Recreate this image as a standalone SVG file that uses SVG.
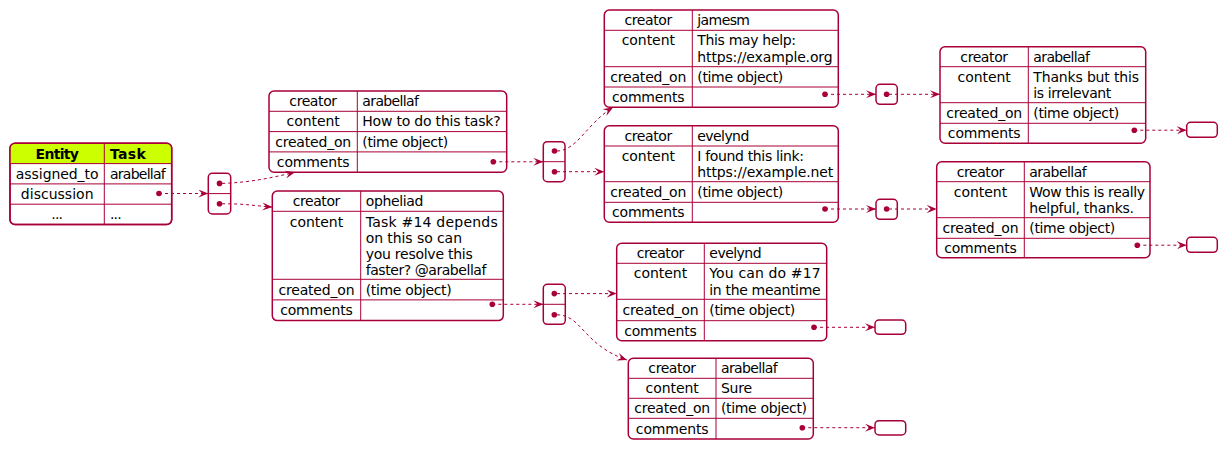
<svg xmlns="http://www.w3.org/2000/svg" width="1227" height="450" viewBox="0 0 1227 450">
<style>
.b{fill:#FFFFFF;stroke:#A80036;stroke-width:1.5}
.o{fill:none;stroke:#A80036;stroke-width:1.5}
.l{stroke:#A80036;stroke-width:1}
.t{font-family:"DejaVu Sans","Liberation Sans",sans-serif;font-size:14px;fill:#000000}
.k{text-anchor:middle}
.h{font-weight:bold}
.d{fill:#A80036}
.c{fill:none;stroke:#A80036;stroke-width:1;stroke-dasharray:3,3}
</style>
<defs>
<marker id="ah" markerWidth="11" markerHeight="9" refX="10" refY="4" orient="auto" markerUnits="userSpaceOnUse">
<path d="M0,0 L10,4 L0,8 L4,4 Z" fill="#A80036"/>
</marker>
</defs>
<rect width="1227" height="450" fill="#FFFFFF"/>

<g id="entity">
<rect class="b" x="10" y="143.3" width="161.7" height="81.2" rx="5"/>
<path d="M10,163.6 V148.3 Q10,143.3 15,143.3 H166.7 Q171.7,143.3 171.7,148.3 V163.6 Z" fill="#CCFF00"/>
<rect class="o" x="10" y="143.3" width="161.7" height="81.2" rx="5"/>
<line class="l" x1="10" y1="163.6" x2="171.7" y2="163.6"/>
<line class="l" x1="10" y1="183.9" x2="171.7" y2="183.9"/>
<line class="l" x1="10" y1="204.2" x2="171.7" y2="204.2"/>
<line class="l" x1="104.3" y1="143.3" x2="104.3" y2="224.5"/>
<text class="t k h" x="57.2" y="158.5" textLength="43.3" lengthAdjust="spacing">Entity</text>
<text class="t h" x="110" y="158.5" textLength="35.7" lengthAdjust="spacing">Task</text>
<text class="t k" x="57.2" y="178.8" textLength="82.7" lengthAdjust="spacing">assigned_to</text>
<text class="t" x="110" y="178.8" textLength="55.7" lengthAdjust="spacing">arabellaf</text>
<text class="t k" x="57.2" y="199.1" textLength="72.7" lengthAdjust="spacing">discussion</text>
<circle class="d" cx="159" cy="193.5" r="2.8"/>
<text class="t k" x="57.2" y="219.4" textLength="11.7" lengthAdjust="spacing">...</text>
<text class="t" x="110" y="219.4" textLength="11.7" lengthAdjust="spacing">...</text>
</g>

<g id="arrA">
<rect class="b" x="208.3" y="173.3" width="22.4" height="40.7" rx="4"/>
<line class="l" x1="208.3" y1="193.6" x2="230.7" y2="193.6"/>
<circle class="d" cx="219.5" cy="183.4" r="2.8"/>
<circle class="d" cx="219.5" cy="203.8" r="2.8"/>
</g>

<g id="c1">
<rect class="b" x="269" y="91" width="237.7" height="81.3" rx="5"/>
<line class="l" x1="269" y1="111.3" x2="506.7" y2="111.3"/>
<line class="l" x1="269" y1="131.6" x2="506.7" y2="131.6"/>
<line class="l" x1="269" y1="151.9" x2="506.7" y2="151.9"/>
<line class="l" x1="357.3" y1="91" x2="357.3" y2="172.3"/>
<text class="t k" x="313.2" y="106" textLength="47.7" lengthAdjust="spacing">creator</text>
<text class="t" x="362.3" y="106" textLength="56.7" lengthAdjust="spacing">arabellaf</text>
<text class="t k" x="313.2" y="126.3" textLength="53.3" lengthAdjust="spacing">content</text>
<text class="t" x="362.3" y="126.3" textLength="138.3" lengthAdjust="spacing">How to do this task?</text>
<text class="t k" x="313.2" y="146.6" textLength="76" lengthAdjust="spacing">created_on</text>
<text class="t" x="362.3" y="146.6" textLength="86" lengthAdjust="spacing">(time object)</text>
<text class="t k" x="313.2" y="166.9" textLength="72.7" lengthAdjust="spacing">comments</text>
<circle class="d" cx="493.3" cy="161.8" r="2.8"/>
</g>

<g id="c2">
<rect class="b" x="272.3" y="191" width="231" height="129.6" rx="5"/>
<line class="l" x1="272.3" y1="211.3" x2="503.3" y2="211.3"/>
<line class="l" x1="272.3" y1="279.3" x2="503.3" y2="279.3"/>
<line class="l" x1="272.3" y1="299.9" x2="503.3" y2="299.9"/>
<line class="l" x1="360.7" y1="191" x2="360.7" y2="320.6"/>
<text class="t k" x="316.5" y="206" textLength="47.7" lengthAdjust="spacing">creator</text>
<text class="t" x="365.7" y="206" textLength="57.7" lengthAdjust="spacing">opheliad</text>
<text class="t k" x="316.5" y="226.5" textLength="53.3" lengthAdjust="spacing">content</text>
<text class="t" x="365.7" y="226.5" textLength="132" lengthAdjust="spacing">Task #14 depends</text>
<text class="t" x="365.7" y="242.8" textLength="96.3" lengthAdjust="spacing">on this so can</text>
<text class="t" x="365.7" y="259.1" textLength="107" lengthAdjust="spacing">you resolve this</text>
<text class="t" x="365.7" y="275.4" textLength="120.7" lengthAdjust="spacing">faster? @arabellaf</text>
<text class="t k" x="316.5" y="294.5" textLength="76" lengthAdjust="spacing">created_on</text>
<text class="t" x="365.7" y="294.5" textLength="86" lengthAdjust="spacing">(time object)</text>
<text class="t k" x="316.5" y="315" textLength="72.7" lengthAdjust="spacing">comments</text>
<circle class="d" cx="492.3" cy="304.3" r="2.8"/>
</g>

<g id="arrB">
<rect class="b" x="543.3" y="141.7" width="21.7" height="40" rx="4"/>
<line class="l" x1="543.3" y1="161.7" x2="565" y2="161.7"/>
<circle class="d" cx="554.5" cy="151" r="2.8"/>
<circle class="d" cx="554.5" cy="171.7" r="2.8"/>
</g>

<g id="arrC">
<rect class="b" x="543.3" y="284.3" width="22" height="40" rx="4"/>
<line class="l" x1="543.3" y1="304.3" x2="565.3" y2="304.3"/>
<circle class="d" cx="554.3" cy="293.6" r="2.8"/>
<circle class="d" cx="554.3" cy="314.8" r="2.8"/>
</g>

<g id="c3">
<rect class="b" x="604.3" y="10" width="234" height="97.3" rx="5"/>
<line class="l" x1="604.3" y1="30.3" x2="838.3" y2="30.3"/>
<line class="l" x1="604.3" y1="66.7" x2="838.3" y2="66.7"/>
<line class="l" x1="604.3" y1="87" x2="838.3" y2="87"/>
<line class="l" x1="692.3" y1="10" x2="692.3" y2="107.3"/>
<text class="t k" x="648.3" y="25" textLength="47.7" lengthAdjust="spacing">creator</text>
<text class="t" x="697.3" y="25" textLength="52.7" lengthAdjust="spacing">jamesm</text>
<text class="t k" x="648.3" y="45.3" textLength="53.3" lengthAdjust="spacing">content</text>
<text class="t" x="697.3" y="45.3" textLength="98.7" lengthAdjust="spacing">This may help:</text>
<text class="t" x="697.3" y="61.6" textLength="135.3" lengthAdjust="spacing">https://example.org</text>
<text class="t k" x="648.3" y="81.8" textLength="76" lengthAdjust="spacing">created_on</text>
<text class="t" x="697.3" y="81.8" textLength="86" lengthAdjust="spacing">(time object)</text>
<text class="t k" x="648.3" y="102.1" textLength="72.7" lengthAdjust="spacing">comments</text>
<circle class="d" cx="825" cy="94.3" r="2.8"/>
</g>

<g id="c4">
<rect class="b" x="604.3" y="125.7" width="234" height="96.6" rx="5"/>
<line class="l" x1="604.3" y1="146" x2="838.3" y2="146"/>
<line class="l" x1="604.3" y1="181.7" x2="838.3" y2="181.7"/>
<line class="l" x1="604.3" y1="202.3" x2="838.3" y2="202.3"/>
<line class="l" x1="692.3" y1="125.7" x2="692.3" y2="222.3"/>
<text class="t k" x="648.3" y="140.7" textLength="47.7" lengthAdjust="spacing">creator</text>
<text class="t" x="697.3" y="140.7" textLength="52" lengthAdjust="spacing">evelynd</text>
<text class="t k" x="648.3" y="161" textLength="53.3" lengthAdjust="spacing">content</text>
<text class="t" x="697.3" y="161" textLength="106.7" lengthAdjust="spacing">I found this link:</text>
<text class="t" x="697.3" y="177.3" textLength="136" lengthAdjust="spacing">https://example.net</text>
<text class="t k" x="648.3" y="197.1" textLength="76" lengthAdjust="spacing">created_on</text>
<text class="t" x="697.3" y="197.1" textLength="86" lengthAdjust="spacing">(time object)</text>
<text class="t k" x="648.3" y="217.4" textLength="72.7" lengthAdjust="spacing">comments</text>
<circle class="d" cx="825" cy="209" r="2.8"/>
</g>

<g id="arrD">
<rect class="b" x="876" y="84.3" width="21.3" height="20" rx="4"/>
<circle class="d" cx="886.6" cy="94.3" r="2.8"/>
</g>

<g id="arrE">
<rect class="b" x="876" y="199.3" width="21.3" height="20" rx="4"/>
<circle class="d" cx="886.6" cy="209" r="2.8"/>
</g>

<g id="c5">
<rect class="b" x="940" y="46.7" width="205.7" height="96.6" rx="5"/>
<line class="l" x1="940" y1="66.7" x2="1145.7" y2="66.7"/>
<line class="l" x1="940" y1="102.7" x2="1145.7" y2="102.7"/>
<line class="l" x1="940" y1="123.3" x2="1145.7" y2="123.3"/>
<line class="l" x1="1028.3" y1="46.7" x2="1028.3" y2="143.3"/>
<text class="t k" x="984.2" y="61.7" textLength="47.7" lengthAdjust="spacing">creator</text>
<text class="t" x="1033.3" y="61.7" textLength="56.7" lengthAdjust="spacing">arabellaf</text>
<text class="t k" x="984.2" y="81.7" textLength="53.3" lengthAdjust="spacing">content</text>
<text class="t" x="1033.3" y="81.7" textLength="105.7" lengthAdjust="spacing">Thanks but this</text>
<text class="t" x="1033.3" y="98" textLength="78" lengthAdjust="spacing">is irrelevant</text>
<text class="t k" x="984.2" y="118.3" textLength="76" lengthAdjust="spacing">created_on</text>
<text class="t" x="1033.3" y="118.3" textLength="86" lengthAdjust="spacing">(time object)</text>
<text class="t k" x="984.2" y="138.4" textLength="72.7" lengthAdjust="spacing">comments</text>
<circle class="d" cx="1134.3" cy="130.2" r="2.8"/>
</g>

<g id="c6">
<rect class="b" x="936.7" y="161.7" width="213.3" height="96" rx="5"/>
<line class="l" x1="936.7" y1="181.7" x2="1150" y2="181.7"/>
<line class="l" x1="936.7" y1="217.7" x2="1150" y2="217.7"/>
<line class="l" x1="936.7" y1="238.3" x2="1150" y2="238.3"/>
<line class="l" x1="1024.3" y1="161.7" x2="1024.3" y2="257.7"/>
<text class="t k" x="980.5" y="176.7" textLength="47.7" lengthAdjust="spacing">creator</text>
<text class="t" x="1029.3" y="176.7" textLength="57.3" lengthAdjust="spacing">arabellaf</text>
<text class="t k" x="980.5" y="196.7" textLength="53.3" lengthAdjust="spacing">content</text>
<text class="t" x="1029.3" y="196.7" textLength="115.7" lengthAdjust="spacing">Wow this is really</text>
<text class="t" x="1029.3" y="213" textLength="104.7" lengthAdjust="spacing">helpful, thanks.</text>
<text class="t k" x="980.5" y="233.2" textLength="76" lengthAdjust="spacing">created_on</text>
<text class="t" x="1029.3" y="233.2" textLength="86" lengthAdjust="spacing">(time object)</text>
<text class="t k" x="980.5" y="253" textLength="72.7" lengthAdjust="spacing">comments</text>
<circle class="d" cx="1137.3" cy="245.2" r="2.8"/>
</g>

<g id="c7">
<rect class="b" x="616.7" y="243.3" width="210" height="97.4" rx="5"/>
<line class="l" x1="616.7" y1="263.3" x2="826.7" y2="263.3"/>
<line class="l" x1="616.7" y1="299.3" x2="826.7" y2="299.3"/>
<line class="l" x1="616.7" y1="320.7" x2="826.7" y2="320.7"/>
<line class="l" x1="704.3" y1="243.3" x2="704.3" y2="340.7"/>
<text class="t k" x="660.5" y="258.3" textLength="47.7" lengthAdjust="spacing">creator</text>
<text class="t" x="709.3" y="258.3" textLength="52.3" lengthAdjust="spacing">evelynd</text>
<text class="t k" x="660.5" y="278.3" textLength="53.3" lengthAdjust="spacing">content</text>
<text class="t" x="709.3" y="278.3" textLength="111.3" lengthAdjust="spacing">You can do #17</text>
<text class="t" x="709.3" y="294.6" textLength="111.3" lengthAdjust="spacing">in the meantime</text>
<text class="t k" x="660.5" y="315" textLength="76" lengthAdjust="spacing">created_on</text>
<text class="t" x="709.3" y="315" textLength="86" lengthAdjust="spacing">(time object)</text>
<text class="t k" x="660.5" y="335.5" textLength="72.7" lengthAdjust="spacing">comments</text>
<circle class="d" cx="814" cy="327.3" r="2.8"/>
</g>

<g id="c8">
<rect class="b" x="628.3" y="358.3" width="185" height="80.7" rx="5"/>
<line class="l" x1="628.3" y1="378.3" x2="813.3" y2="378.3"/>
<line class="l" x1="628.3" y1="398.3" x2="813.3" y2="398.3"/>
<line class="l" x1="628.3" y1="418.3" x2="813.3" y2="418.3"/>
<line class="l" x1="716" y1="358.3" x2="716" y2="439"/>
<text class="t k" x="672.2" y="373.3" textLength="47.7" lengthAdjust="spacing">creator</text>
<text class="t" x="721" y="373.3" textLength="56.7" lengthAdjust="spacing">arabellaf</text>
<text class="t k" x="672.2" y="393.3" textLength="53.3" lengthAdjust="spacing">content</text>
<text class="t" x="721" y="393.3" textLength="31" lengthAdjust="spacing">Sure</text>
<text class="t k" x="672.2" y="413.3" textLength="76" lengthAdjust="spacing">created_on</text>
<text class="t" x="721" y="413.3" textLength="86" lengthAdjust="spacing">(time object)</text>
<text class="t k" x="672.2" y="434" textLength="72.7" lengthAdjust="spacing">comments</text>
<circle class="d" cx="802.3" cy="427.7" r="2.8"/>
</g>

<g id="empties">
<rect class="b" x="1186.7" y="122.3" width="30.6" height="15" rx="4"/>
<rect class="b" x="1186.7" y="237.3" width="30.6" height="15" rx="4"/>
<rect class="b" x="875" y="320" width="30.7" height="14.3" rx="4"/>
<rect class="b" x="875" y="420.7" width="30.7" height="14.3" rx="4"/>
</g>

<g id="connectors">
<path class="c" marker-end="url(#ah)" d="M159,193.5 H208.3"/>
<path class="c" marker-end="url(#ah)" d="M222,183.4 C250,182.5 270,178 295,172.3"/>
<path class="c" marker-end="url(#ah)" d="M222,203.8 C245,203.5 255,206 272.3,207"/>
<path class="c" marker-end="url(#ah)" d="M493.3,161.8 H543.3"/>
<path class="c" marker-end="url(#ah)" d="M492.3,304.3 H543.3"/>
<path class="c" marker-end="url(#ah)" d="M557,151 C577,151 588,122 613,107.5"/>
<path class="c" marker-end="url(#ah)" d="M557,171.7 H604.3"/>
<path class="c" marker-end="url(#ah)" d="M557,293.6 H616.7"/>
<path class="c" marker-end="url(#ah)" d="M557,314.8 C582,315 583,345 627,360"/>
<path class="c" marker-end="url(#ah)" d="M825,94.3 H876"/>
<path class="c" marker-end="url(#ah)" d="M889,94.3 H940"/>
<path class="c" marker-end="url(#ah)" d="M825,209 H876"/>
<path class="c" marker-end="url(#ah)" d="M889,209 H936.7"/>
<path class="c" marker-end="url(#ah)" d="M1134.3,130.2 H1186.7"/>
<path class="c" marker-end="url(#ah)" d="M1137.3,245.2 H1186.7"/>
<path class="c" marker-end="url(#ah)" d="M814,327.3 H875"/>
<path class="c" marker-end="url(#ah)" d="M802.3,427.7 H875"/>
</g>
</svg>
